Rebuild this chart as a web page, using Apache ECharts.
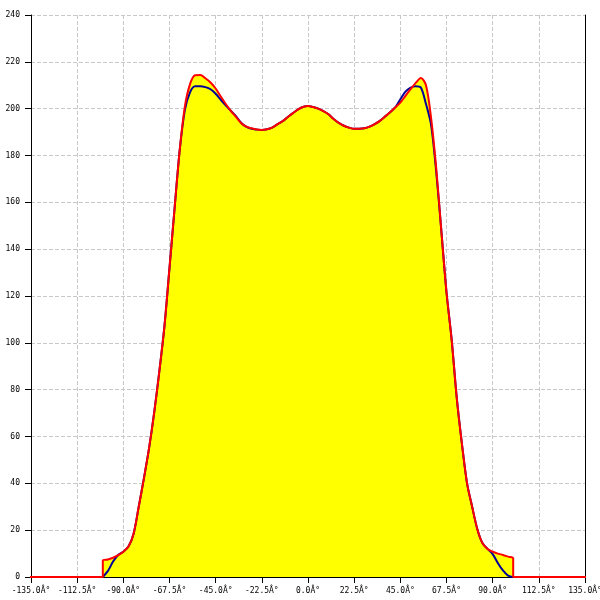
<!DOCTYPE html>
<html>
<head>
<meta charset="utf-8">
<script src="https://cdn.jsdelivr.net/npm/echarts@6/dist/echarts.min.js"></script>
<style>html,body{margin:0;padding:0;background:#fff}#c{width:600px;height:600px}</style>
</head>
<body>
<div id="c"></div>
<script>
const angles = [-100,-97.5,-95,-92.5,-90,-87.5,-85,-82.5,-80,-77.5,-75,-72.5,-70,-67.5,-65,-62.5,-60,-57.5,-55,-52.5,-50,-47.5,-45,-42.5,-40,-37.5,-35,-32.5,-30,-27.5,-25,-22.5,-20,-17.5,-15,-12.5,-10,-7.5,-5,-2.5,0,2.5,5,7.5,10,12.5,15,17.5,20,22.5,25,27.5,30,32.5,35,37.5,40,42.5,45,47.5,50,52.5,55,57.5,60,62.5,65,67.5,70,72.5,75,77.5,80,82.5,85,87.5,90,92.5,95,97.5,100];
const redValues = [7.0,7.5,8.2,9.3,10.8,13,18.5,30,42,54.8,70,87.5,106.8,132,157.7,182.5,201,210.5,214.3,214.4,213,211.2,208.6,205.2,201.9,199,196.4,193.8,192.3,191.6,191.1,190.9,191.2,191.9,193.3,194.6,196.3,198,199.6,200.7,201.1,200.7,200,199,197.6,195.6,193.9,192.7,191.9,191.4,191.4,191.6,192.3,193.4,194.8,196.6,198.5,200.5,202.6,205.5,208.3,211,213.1,210,196,174.5,147.7,121.6,101.5,76.5,57,40.1,30,20.5,14.5,12,10.8,10,9.4,8.7,8];
const blueValues = [0,2.6,6.6,9.4,10.8,13,18.5,30,42,54.8,70,87.5,106.8,132,157.7,182.5,199.5,207,209.6,209.6,209.2,208.3,206.4,203.8,201.3,199,196.7,193.9,192.2,191.4,191.1,190.9,191.2,191.9,193.3,194.6,196.3,198,199.6,200.7,201.1,200.7,200,199,197.6,195.6,193.9,192.7,191.9,191.4,191.4,191.6,192.3,193.4,194.8,196.6,198.5,200.5,204,207.3,209,209.6,209,202,193,173,147.7,121.6,101.5,76.5,57,40.1,30,20.5,14.5,12,9.8,6,2.8,0.6,0];
// zero baseline of the red trace, extending past the plot edges
const redLeadAngles = [-151, -100];
const redTailAngles = [100, 143];
const baselineValue = 0;

const xTickMin = -135, xTickMax = 135, xTickStep = 22.5;
const yTickMin = 0, yTickMax = 240, yTickStep = 20;

const pairs = (xs, ys) => xs.map((x, i) => [x, ys[i]]);
const redData = redLeadAngles.map(a => [a, baselineValue])
  .concat(pairs(angles, redValues))
  .concat(redTailAngles.map(a => [a, baselineValue]));
const blueData = pairs(angles, blueValues);
const fillData = pairs(angles, redValues);

const font = 'DejaVu Sans Mono';
const chart = echarts.init(document.getElementById('c'), null, {renderer: 'canvas'});
chart.setOption({
  animation: false,
  backgroundColor: '#fff',
  grid: {left: 31, right: 15, top: 15, bottom: 23, containLabel: false, outerBoundsMode: 'none'},
  xAxis: {
    type: 'value', min: xTickMin, max: xTickMax, interval: xTickStep,
    axisLine: {onZero: false, lineStyle: {color: '#000', width: 1}},
    axisTick: {show: true, length: 6, lineStyle: {color: '#000'}},
    axisLabel: {formatter: v => v.toFixed(1) + 'Â°', fontFamily: font, fontSize: 8, color: '#000', margin: 10, showMinLabel: true, showMaxLabel: true},
    splitLine: {show: true, lineStyle: {type: 'dashed', color: '#c8c8c8', width: 1}}
  },
  yAxis: [{
    type: 'value', min: yTickMin, max: yTickMax, interval: yTickStep,
    axisLine: {show: true, onZero: false, lineStyle: {color: '#000', width: 1}},
    axisTick: {show: true, length: 6, lineStyle: {color: '#000'}},
    axisLabel: {fontFamily: font, fontSize: 8, color: '#000', margin: 11},
    splitLine: {show: true, lineStyle: {type: 'dashed', color: '#c8c8c8', width: 1}}
  }, {
    type: 'value', position: 'right', min: yTickMin, max: yTickMax, interval: yTickStep,
    axisLine: {show: true, onZero: false, lineStyle: {color: '#000', width: 1}},
    axisTick: {show: false}, axisLabel: {show: false}, splitLine: {show: false}
  }],
  series: [{
    type: 'line', data: fillData, smooth: 0.3, symbol: 'none',
    lineStyle: {width: 0}, areaStyle: {color: '#ffff00', opacity: 1}, z: 1
  }, {
    type: 'line', data: blueData, smooth: 0.3, symbol: 'none',
    lineStyle: {color: '#000099', width: 2}, z: 2
  }, {
    type: 'line', data: redData, smooth: 0.3, symbol: 'none', clip: false,
    lineStyle: {color: '#ff0000', width: 2}, z: 3
  }]
});
</script>
</body>
</html>
